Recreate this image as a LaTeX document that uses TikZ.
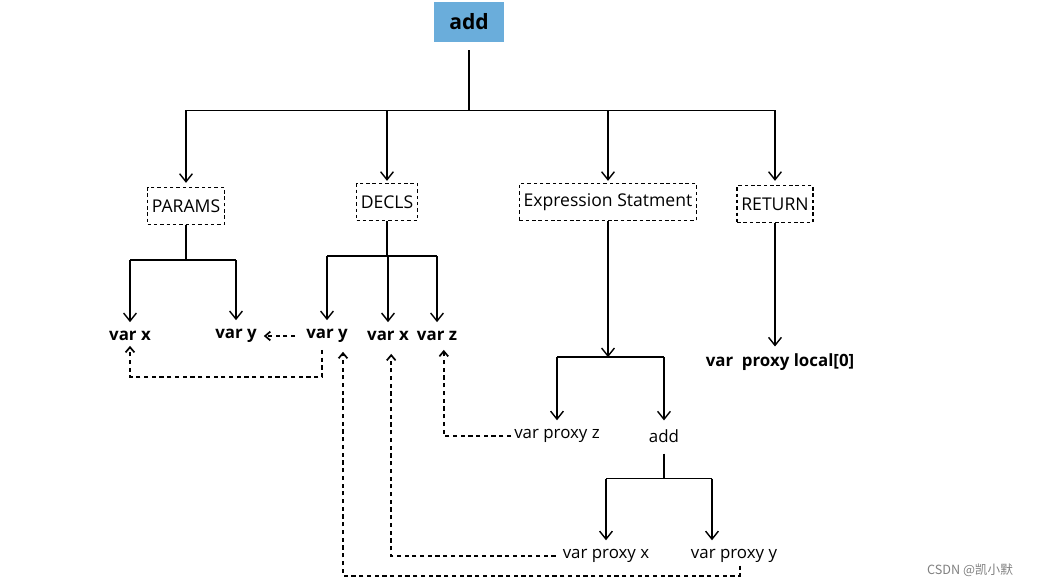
\documentclass[tikz,border=0pt]{standalone}
\usepackage{fontspec}
\setmainfont{Open Sans}
\newfontfamily\cjkfont{Noto Sans CJK SC}
\usetikzlibrary{arrows.meta, positioning}
\definecolor{rootblue}{HTML}{6AADDB}

\begin{document}
\begin{tikzpicture}[
    x=0.025cm, y=-0.025cm,
    root/.style={fill=rootblue, minimum width=1.75cm, minimum height=1cm, font=\fontsize{15}{17}\selectfont\bfseries},
    group/.style={draw, line width=1.1pt, dash pattern=on 2.5pt off 2pt, minimum height=0.92cm, inner xsep=3pt, font=\fontsize{12.5}{15}\selectfont},
    leaf/.style={font=\fontsize{12}{14}\selectfont\bfseries, inner sep=2pt},
    plain/.style={font=\fontsize{12}{14}\selectfont, inner sep=2pt},
    arrow/.style={line width=1pt, -{Straight Barb[length=2mm, width=3.2mm]}},
    link/.style={line width=1.2pt, dash pattern=on 3pt off 2.5pt, -{Straight Barb[length=1.3mm, width=2.2mm]}}
]
    \useasboundingbox (0,0) rectangle (1048,587);

    % Root
    \node (root) [root] at (469,22) {add};

    % Statement groups
    \node (params) [group] at (186,206) {PARAMS};
    \node (decls) [group] at (387,202) {DECLS};
    \node (expr) [group] at (608,202) {Expression Statment};
    \node (ret) [group] at (775,204) {RETURN};

    % Leaves
    \node (px) [leaf] at (130,336) {var x};
    \node (py) [leaf] at (236,336) {var y};
    \node (dy) [leaf] at (327,336) {var y};
    \node (dx) [leaf] at (388,336) {var x};
    \node (dz) [leaf] at (437,336) {var z};
    \node (rl) [leaf] at (780,362) {var\ \ proxy local[0]};
    \node (pz) [plain] at (557,436) {var proxy z};
    \node (sum) [plain] at (664,436) {add};
    \node (ppx) [plain] at (606,556) {var proxy x};
    \node (ppy) [plain] at (734,556) {var proxy y};

    % Watermark
    \node (mark) [text=gray, font=\cjkfont\small] at (970,570) {CSDN @凯小默};

    % Tree - root
    \draw [line width=1pt] ([yshift=-0.2cm]root.south) -- ++(0,60) coordinate (b0);
    \draw [line width=1pt] (params.north |- b0) -- (ret.north |- b0);
    \draw [arrow] (params.north |- b0) -- ([yshift=0.1cm]params.north);
    \draw [arrow] (decls.north |- b0) -- ([yshift=0.05cm]decls.north);
    \draw [arrow] (expr.north |- b0) -- ([yshift=0.05cm]expr.north);
    \draw [arrow] (ret.north |- b0) -- ([yshift=0.1cm]ret.north);

    % Tree - params
    \draw [line width=1pt] (params.south) -- ++(0,35) coordinate (b1);
    \draw [line width=1pt] (px.north |- b1) -- (py.north |- b1);
    \draw [arrow] (px.north |- b1) -- ([yshift=0.15cm]px.north);
    \draw [arrow] (py.north |- b1) -- ([yshift=0.15cm]py.north);

    % Tree - decls
    \draw [line width=1pt] (decls.south) -- ++(0,35) coordinate (b2);
    \draw [line width=1pt] (dy.north |- b2) -- (dz.north |- b2);
    \foreach \n in {dy, dx, dz}
        \draw [arrow] (\n.north |- b2) -- ([yshift=0.15cm]\n.north);

    % Tree - expression
    \draw [arrow] (expr.south) -- ++(0,136) coordinate (b3);
    \draw [line width=1pt] (pz.north |- b3) -- (sum.north |- b3);
    \draw [arrow] (pz.north |- b3) -- ([yshift=0.15cm]pz.north);
    \draw [arrow] (sum.north |- b3) -- ([yshift=0.15cm]sum.north);
    \draw [line width=1pt] ([yshift=-0.2cm]sum.south) -- ++(0,25) coordinate (b4);
    \draw [line width=1pt] (ppx.north |- b4) -- ([xshift=-0.55cm]ppy.north |- b4);
    \draw [arrow] (ppx.north |- b4) -- ([yshift=0.15cm]ppx.north);
    \draw [arrow] ([xshift=-0.55cm]ppy.north |- b4) -- ([xshift=-0.55cm, yshift=0.15cm]ppy.north);

    % Tree - return
    \draw [arrow] (ret.south) -- ([yshift=0.1cm]ret.south |- rl.north);

    % Variable links
    \draw [link] ([xshift=-0.2cm]dy.west) -- ([xshift=0.1cm]py.east);
    \draw [link] ([xshift=-0.12cm, yshift=-0.1cm]dy.south) -- ++(0,27) -| ([yshift=-0.05cm]px.south);
    \draw [link] (pz.west) -| ([xshift=0.17cm, yshift=-0.15cm]dz.south);
    \draw [link] ([xshift=-0.1cm]ppx.west) -| ([xshift=0.08cm, yshift=-0.25cm]dx.south);
    \draw [link] ([xshift=0.15cm]ppy.south) -- ++(0,10) -| ([xshift=0.4cm, yshift=-0.15cm]dy.south);
\end{tikzpicture}
\end{document}
